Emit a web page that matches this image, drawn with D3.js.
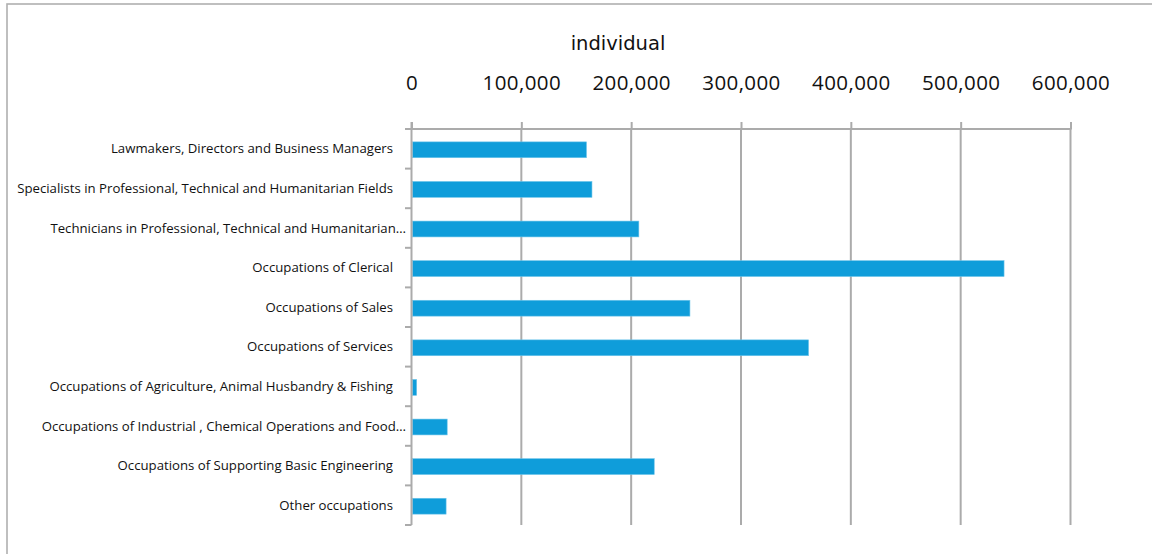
<!DOCTYPE html>
<html>
<head>
<meta charset="utf-8">
<script src="https://cdn.jsdelivr.net/npm/d3@7"></script>
<style>
  html, body { margin: 0; padding: 0; background: #fff; }
  svg { display: block; }
</style>
</head>
<body>
<svg id="chart" width="1152" height="554"></svg>
<script>
// Employed persons by occupation group
const categories = [
  "Lawmakers, Directors and Business Managers",
  "Specialists in Professional, Technical and Humanitarian Fields",
  "Technicians in Professional, Technical and Humanitarian\u2026",
  "Occupations of Clerical",
  "Occupations of Sales",
  "Occupations of Services",
  "Occupations of Agriculture, Animal Husbandry & Fishing",
  "Occupations of Industrial , Chemical Operations and Food\u2026",
  "Occupations of Supporting Basic Engineering",
  "Other occupations"
];
const values = [159300, 164300, 207000, 539500, 253500, 361500, 4700, 32500, 221000, 31500];
const tickValues = [0, 100000, 200000, 300000, 400000, 500000, 600000];
const axisTitle = "individual";

const svg = d3.select("#chart");
const gridColor = "#ababab";
const barColor = "#0f9dda";

// outer frame
svg.append("rect")
  .attr("x", 7).attr("y", 4)
  .attr("width", 1170).attr("height", 580)
  .attr("fill", "none").attr("stroke", "#b0b0b0").attr("stroke-width", 1.6);

const plotTop = 129, plotBottom = 525;
const x = d3.scaleLinear().domain([0, 600000]).range([411.5, 1070.5]);
const y = d3.scaleBand().domain(categories).range([plotTop, plotBottom])
  .paddingInner(0.6).paddingOuter(0.3);

// vertical gridlines
svg.append("g").selectAll("line").data(tickValues.slice(1)).join("line")
  .attr("x1", d => x(d)).attr("x2", d => x(d))
  .attr("y1", plotTop).attr("y2", plotBottom)
  .attr("stroke", gridColor).attr("stroke-width", 2);

// value axis across the top
const xAxis = svg.append("g").attr("transform", `translate(0,${plotTop})`)
  .call(d3.axisTop(x).tickValues(tickValues).tickFormat(d3.format(","))
    .tickSize(7).tickSizeOuter(0).tickPadding(32));
xAxis.select(".domain").remove();
xAxis.selectAll(".tick line").attr("stroke", gridColor).attr("stroke-width", 2);
xAxis.selectAll(".tick text")
  .attr("fill", "#111").attr("font-family", "'Open Sans', sans-serif")
  .attr("font-size", 20.5).attr("letter-spacing", 0.4);
svg.append("line")
  .attr("x1", 405).attr("x2", x(600000) + 1)
  .attr("y1", plotTop).attr("y2", plotTop)
  .attr("stroke", gridColor).attr("stroke-width", 2);

// axis title
svg.append("text")
  .attr("x", 618).attr("y", 50)
  .attr("text-anchor", "middle")
  .attr("font-family", "'DejaVu Sans', sans-serif").attr("font-size", 19.5)
  .attr("fill", "#111").text(axisTitle);

// bars
svg.append("g").selectAll("rect").data(values).join("rect")
  .attr("x", x(0) + 1)
  .attr("y", (d, i) => y(categories[i]) + 1)
  .attr("width", d => x(d) - x(0) - 1)
  .attr("height", y.bandwidth())
  .attr("fill", barColor)
  .attr("stroke", "#6cc4ea").attr("stroke-width", 0.6);

// category axis
svg.append("line")
  .attr("x1", x(0)).attr("x2", x(0))
  .attr("y1", plotTop - 7).attr("y2", plotBottom)
  .attr("stroke", gridColor).attr("stroke-width", 2);
const bounds = [plotTop].concat(categories.map(c => y(c) + y.bandwidth() + (y.step() - y.bandwidth()) / 2));
svg.append("g").selectAll("line").data(bounds).join("line")
  .attr("x1", 405).attr("x2", x(0))
  .attr("y1", d => d).attr("y2", d => d)
  .attr("stroke", gridColor).attr("stroke-width", 2);

svg.append("g").selectAll("text").data(categories).join("text")
  .attr("x", d => d.endsWith("\u2026") ? 406 : 393)
  .attr("y", d => y(d) + y.bandwidth() / 2)
  .attr("dy", "0.35em")
  .attr("text-anchor", "end")
  .attr("font-family", "'Open Sans', sans-serif").attr("font-size", 13.2)
  .attr("fill", "#111")
  .text(d => d);
</script>
</body>
</html>
